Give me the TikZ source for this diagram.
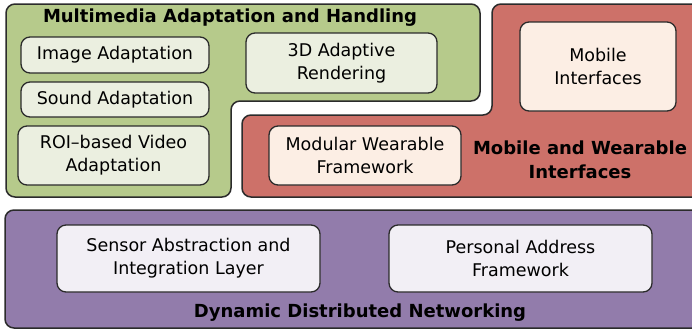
\documentclass[tikz,border=0pt]{standalone}
\usepackage{fontspec}
\setmainfont{DejaVu Sans}
\definecolor{gfill}{HTML}{B6CA8B}
\definecolor{gin}{HTML}{EBEFE0}
\definecolor{rfill}{HTML}{CD7169}
\definecolor{rin}{HTML}{FCEEE4}
\definecolor{pfill}{HTML}{927CAB}
\definecolor{pin}{HTML}{F2EFF5}
\definecolor{edge}{HTML}{2B2B2B}
\begin{document}
\begin{tikzpicture}[x=1pt,y=-1pt,
  region/.style={draw=edge,line width=1.5pt,rounded corners=9pt},
  box/.style={draw=edge,line width=1.3pt,rounded corners=9pt,align=center,
    inner sep=0pt,font=\fontsize{17.5}{23}\selectfont},
  gbox/.style={box,fill=gin},
  rbox/.style={box,fill=rin},
  pbox/.style={box,fill=pin},
  title/.style={font=\fontsize{18}{24}\selectfont\bfseries,align=center,inner sep=0pt}]
\useasboundingbox (0,0) rectangle (692,330);
\clip (0,0) rectangle (692,330);
% regions
\draw[region,fill=gfill] (6,4) -- (480,4) -- (480,101) -- (231,101) -- (231,197) -- (6,197) -- cycle;
\draw[region,fill=rfill] (492,4) -- (710,4) -- (710,197) -- (242,197) -- (242,115) -- (492,115) -- cycle;
\draw[region,fill=pfill] (5,210) -- (710,210) -- (710,328) -- (5,328) -- cycle;
% titles
\node[title] (t1) at (230,18) {Multimedia Adaptation and Handling};
\node[title] (t2) at (580,160) {Mobile and Wearable\\Interfaces};
\node[title] (t3) at (360,313) {Dynamic Distributed Networking};
% inner boxes
\node[gbox,minimum width=188pt,minimum height=36pt] (img) at (115,55) {Image Adaptation};
\node[gbox,minimum width=188pt,minimum height=35pt] (snd) at (115,99.5) {Sound Adaptation};
\node[gbox,minimum width=191pt,minimum height=59pt] (roi) at (113.5,155.5) {ROI–based Video\\Adaptation};
\node[gbox,minimum width=191pt,minimum height=60pt] (r3d) at (341.5,63) {3D Adaptive\\Rendering};
\node[rbox,minimum width=192pt,minimum height=59pt] (mod) at (365,155.5) {Modular Wearable\\Framework};
\node[rbox,minimum width=156pt,minimum height=89pt] (mob) at (598,66.5) {Mobile\\Interfaces};
\node[pbox,minimum width=263pt,minimum height=67pt] (sen) at (188.5,258.5) {Sensor Abstraction and\\Integration Layer};
\node[pbox,minimum width=263pt,minimum height=67pt] (pa) at (520.5,258.5) {Personal Address\\Framework};
\end{tikzpicture}
\end{document}
